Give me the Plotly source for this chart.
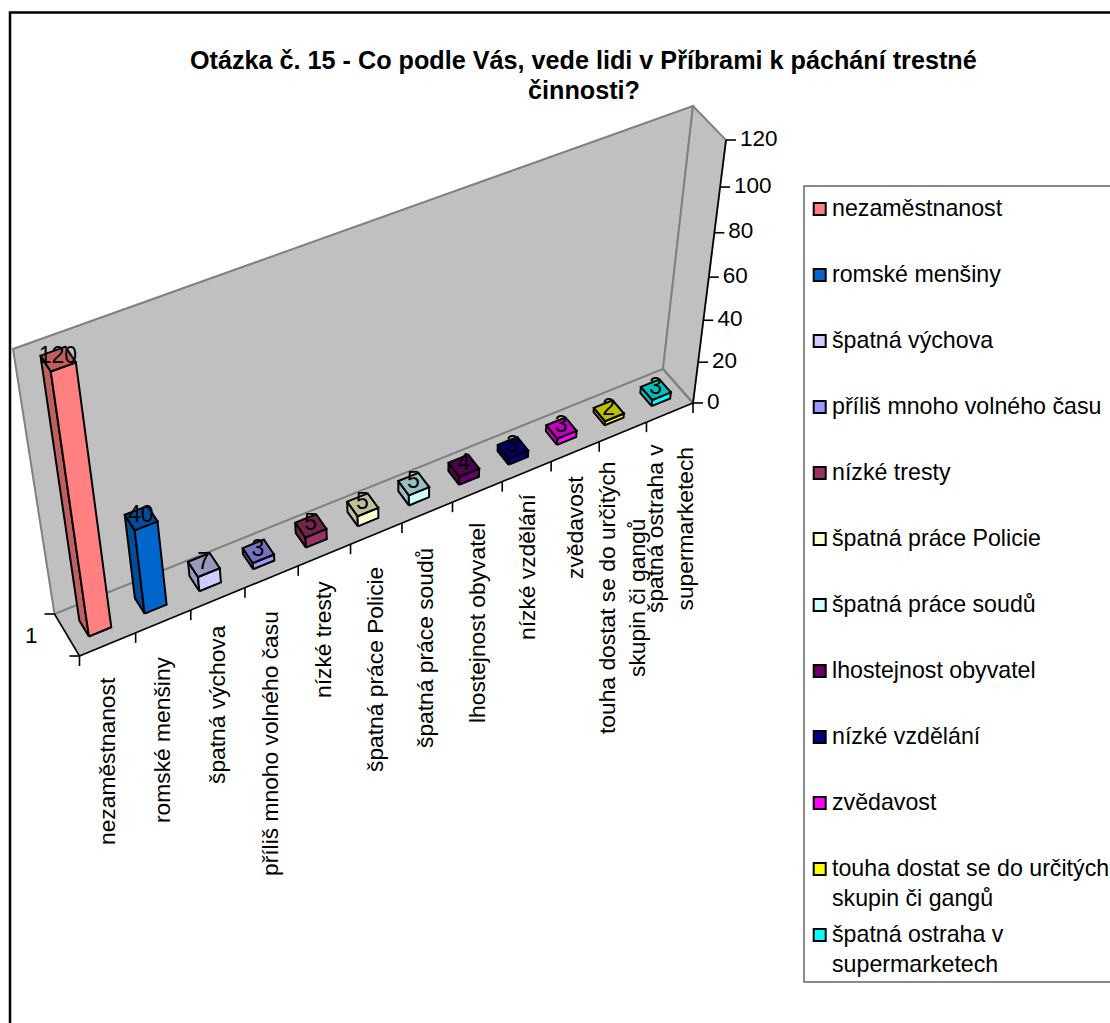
import plotly.graph_objects as go

categories = ["nezaměstnanost", "romské menšiny", "špatná výchova", "příliš mnoho volného času",
              "nízké tresty", "špatná práce Policie", "špatná práce soudů", "lhostejnost obyvatel",
              "nízké vzdělání", "zvědavost", "touha dostat se do určitých skupin či gangů",
              "špatná ostraha v supermarketech"]
values = [120, 40, 7, 3, 5, 5, 5, 4, 3, 3, 2, 3]
colors = ["#FF8080", "#0066CC", "#CCCCFF", "#9999FF", "#993366", "#FFFFCC", "#CCFFFF", "#660066",
          "#000080", "#FF00FF", "#FFFF00", "#00FFFF"]
dark_colors = ["#BF6060", "#004D99", "#9999BF", "#7373BF", "#73264D", "#BFBF99", "#99BFBF", "#4D004D",
               "#000060", "#BF00BF", "#BFBF00", "#00BFBF"]
value_ticks = [0, 20, 40, 60, 80, 100, 120]
axis_labels = ["nezaměstnanost", "romské menšiny", "špatná výchova", "příliš mnoho volného času",
               "nízké tresty", "špatná práce Policie", "špatná práce soudů", "lhostejnost obyvatel",
               "nízké vzdělání", "zvědavost", "touha dostat se do určitých<br>skupin či gangů",
               "špatná ostraha v<br>supermarketech"]
axis_label_x = [107, 162, 217, 270, 323, 375, 425, 477, 527, 575, 622, 670]
axis_label_y = [761, 740, 705, 744, 640, 670, 648, 623, 567, 528, 598, 529]
legend_labels = ["nezaměstnanost", "romské menšiny", "špatná výchova", "příliš mnoho volného času",
                 "nízké tresty", "špatná práce Policie", "špatná práce soudů", "lhostejnost obyvatel",
                 "nízké vzdělání", "zvědavost", "touha dostat se do určitých<br>skupin či gangů",
                 "špatná ostraha v<br>supermarketech"]
title_lines = ["<b>Otázka č. 15 - Co podle Vás, vede lidi v Příbrami k páchání trestné</b>", "<b>činnosti?</b>"]
title_y = [60, 90]

# Oblique projection of the 3-D box onto the picture
F0L, F0R, B0L, B0R = (79.5, 656), (693, 403), (54.5, 614), (663, 369)
F1L, F1R, B1L, B1R = (40, 391), (726, 140), (13, 349), (693, 106)
VMAX = 120
N = len(categories)


def persp(t, a):
    return t * a / (1 + t * (a - 1))


def project(u, w, v):
    """u: category position 0..N, w: depth 0..1, v: value."""
    s = persp(u / N, 1.108)
    h = persp(v / VMAX, 0.918)
    pts = []
    for dim in (0, 1):
        f0 = F0L[dim] + (F0R[dim] - F0L[dim]) * s
        b0 = B0L[dim] + (B0R[dim] - B0L[dim]) * s
        f1 = F1L[dim] + (F1R[dim] - F1L[dim]) * s
        b1 = B1L[dim] + (B1R[dim] - B1L[dim]) * s
        p0 = f0 + (b0 - f0) * w
        p1 = f1 + (b1 - f1) * w
        pts.append(p0 + (p1 - p0) * h)
    return tuple(pts)


fig = go.Figure()


def poly(points, fill, line="#000000", width=2):
    xs = [p[0] for p in points] + [points[0][0]]
    ys = [p[1] for p in points] + [points[0][1]]
    fig.add_trace(go.Scatter(x=xs, y=ys, mode="lines", fill="toself", fillcolor=fill,
                             line=dict(color=line, width=width), hoverinfo="skip", showlegend=False))


def seg(a, b, color="#000000", width=1.6):
    fig.add_trace(go.Scatter(x=[a[0], b[0]], y=[a[1], b[1]], mode="lines",
                             line=dict(color=color, width=width), hoverinfo="skip", showlegend=False))


GRAY = "#C0C0C0"
EDGE = "#808080"
poly([F0L, F0R, B0R, B0L], GRAY, GRAY, 0)
poly([B0L, B1L, B1R, B0R], GRAY, EDGE, 2)
poly([B0R, B1R, F1R, F0R], GRAY, EDGE, 2)
seg(B0R, F0R, EDGE, 2)
seg(B0L, F0L)
seg(F0L, F0R)
seg(F0R, F1R)

# category ticks
for i in range(N + 1):
    p = project(i, 0, 0)
    seg(p, (p[0], p[1] + 10))
# depth ticks
for w in (0, 1):
    p = project(0, w, 0)
    seg(p, (p[0] - 10, p[1]))
# value ticks and labels
fig.add_trace(go.Scatter(
    x=[project(N, 0, t)[0] + 14 for t in value_ticks],
    y=[project(N, 0, t)[1] for t in value_ticks],
    text=[str(t) for t in value_ticks], mode="text", textposition="middle right",
    textfont=dict(family="Liberation Sans", size=22.5, color="#000000"), hoverinfo="skip", showlegend=False))
for t in value_ticks:
    p = project(N, 0, t)
    seg(p, (p[0] + 10, p[1]))

# bars
X0, X1, W0, W1 = 0.3, 0.7, 0.3, 0.68
for i, (val, col, dark) in enumerate(zip(values, colors, dark_colors)):
    a, b = i + X0, i + X1
    poly([project(a, W0, 0), project(a, W1, 0), project(a, W1, val), project(a, W0, val)], dark)
    poly([project(a, W0, 0), project(b, W0, 0), project(b, W0, val), project(a, W0, val)], col)
    poly([project(a, W0, val), project(b, W0, val), project(b, W1, val), project(a, W1, val)], dark)
label_pts = [project(i + 0.5, 0.5, v) for i, v in enumerate(values)]
fig.add_trace(go.Scatter(
    x=[p[0] for p in label_pts], y=[p[1] - 1 for p in label_pts], text=[str(v) for v in values],
    mode="text", textposition="middle center",
    textfont=dict(family="Liberation Sans", size=23, color="#000000"), hoverinfo="skip", showlegend=False))

annotations = []
for lab, x, y in zip(axis_labels, axis_label_x, axis_label_y):
    annotations.append(dict(x=x, y=y, xref="x", yref="y", text=lab, showarrow=False, textangle=-90,
                            xanchor="center", yanchor="middle", align="center",
                            font=dict(family="Liberation Sans", size=22.8, color="#000000")))
annotations.append(dict(x=31, y=635, xref="x", yref="y", text="1", showarrow=False,
                        font=dict(family="Liberation Sans", size=22.5, color="#000000")))
for line, y in zip(title_lines, title_y):
    annotations.append(dict(x=583.5, y=y, xref="x", yref="y", text=line, showarrow=False, align="center",
                            font=dict(family="Liberation Sans", size=25.2, color="#000000")))

# legend
LEG_X, LEG_Y0, LEG_DY = 819.7, 209, 66
fig.add_trace(go.Scatter(x=[LEG_X] * N, y=[LEG_Y0 + LEG_DY * i for i in range(N)], mode="markers",
                         marker=dict(symbol="square", size=12, color=colors, line=dict(color="#000000", width=2)),
                         hoverinfo="skip", showlegend=False))
for i, lab in enumerate(legend_labels):
    annotations.append(dict(x=830, y=LEG_Y0 + LEG_DY * i - 16, xref="x", yref="y", text=lab, showarrow=False,
                            xanchor="left", yanchor="top", align="left",
                            font=dict(family="Liberation Sans", size=23.2, color="#000000")))

shapes = [
    dict(type="rect", xref="x", yref="y", x0=10, y0=12.5, x1=1125, y1=1040,
         line=dict(color="#000000", width=2.5), layer="below"),
    dict(type="rect", xref="x", yref="y", x0=804, y0=186, x1=1125, y1=982,
         line=dict(color="#666666", width=1.5), fillcolor="#FFFFFF", layer="below"),
]

fig.update_layout(
    width=1110, height=1023, margin=dict(l=0, r=0, t=0, b=0, pad=0),
    paper_bgcolor="#FFFFFF", plot_bgcolor="#FFFFFF", showlegend=False,
    xaxis=dict(range=[0, 1110], visible=False, fixedrange=True),
    yaxis=dict(range=[1023, 0], visible=False, fixedrange=True),
    annotations=annotations, shapes=shapes,
)
fig.write_html("out.html", config={"displayModeBar": False},
               post_script="document.body.style.margin='0';document.body.style.overflow='hidden';")
